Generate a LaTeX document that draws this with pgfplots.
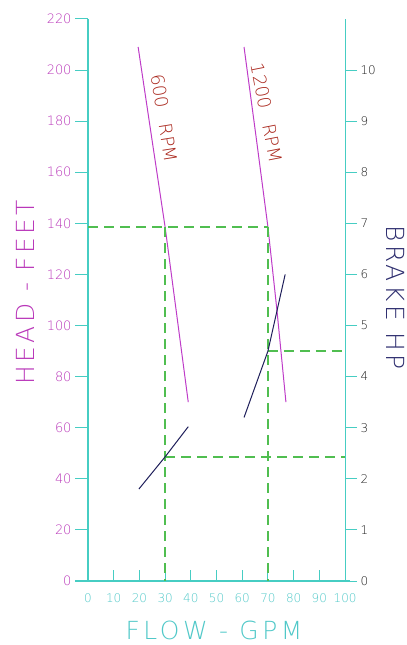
\documentclass[border=0pt]{standalone}
\usepackage{fontspec}
\setmainfont{DejaVu Sans ExtraLight}
\usepackage{pgfplots}
\pgfplotsset{compat=1.18}
\definecolor{cyanax}{RGB}{70,205,195}
\definecolor{cyantxt}{RGB}{80,200,200}
\definecolor{magtxt}{RGB}{185,55,185}
\definecolor{magline}{RGB}{190,60,200}
\definecolor{rpmred}{RGB}{170,40,30}
\definecolor{guidegreen}{RGB}{80,190,80}
\definecolor{navy}{RGB}{30,30,90}
\definecolor{navytxt}{RGB}{45,45,110}
\definecolor{darklab}{RGB}{30,30,30}
\begin{document}
\begin{tikzpicture}
% left axis with head data
\begin{axis}[width=257bp, height=562bp, scale only axis,
  xmin=0, xmax=100, ymin=0, ymax=220,
  axis x line=none, axis y line*=left,
  ytick={0,20,...,220}, tick align=outside, major tick length=13bp,
  axis line style={cyanax, line width=1.1bp},
  ytick style={cyanax, line width=0.9bp},
  yticklabel style={text=magtxt, font=\fontsize{13}{13}\selectfont},
  /pgf/number format/assume math mode=true,
  clip=false]
\coordinate (BL) at (axis cs:-34.24,-25.05);
\coordinate (TR) at (axis cs:124.1,227.4);
% head curves
\addplot[color=magline, line width=1bp] coordinates {(19.5,209) (25,172) (30,138.5) (35,100.5) (39,70)};
\addplot[color=magline, line width=1bp] coordinates {(60.7,209) (65.5,173) (70,138.5) (73.5,106) (77,70)};
\node[rotate=-81, text=rpmred, font=\fontsize{18}{18}\selectfont, inner sep=0pt] at (axis cs:29.6,181.2) {600\hspace{0.9em}RPM};
\node[rotate=-79, text=rpmred, font=\fontsize{18}{18}\selectfont, inner sep=0pt] at (axis cs:69.4,183.2) {1200\hspace{0.9em}RPM};
\node[rotate=90, text=magtxt, font=\fontsize{25}{25}\selectfont\addfontfeature{LetterSpace=14}] at (axis cs:-24.5,113) {HEAD - FEET};
\node[text=cyantxt, font=\fontsize{25}{25}\selectfont\addfontfeature{LetterSpace=14}, inner sep=0pt] at (axis cs:49,-19.3) {FLOW - GPM};
\node[rotate=-90, text=navytxt, font=\fontsize{25}{25}\selectfont\addfontfeature{LetterSpace=14}] at (axis cs:119.5,111) {BRAKE HP};
\end{axis}
% bottom axis
\begin{axis}[width=257bp, height=562bp, scale only axis,
  xmin=0, xmax=100, ymin=0, ymax=220,
  axis y line=none, axis x line*=bottom,
  xtick={0,10,...,100}, tick align=inside, major tick length=11bp,
  axis line style={cyanax, line width=1.1bp},
  xtick style={cyanax, line width=0.9bp},
  xticklabel style={text=cyantxt, font=\fontsize{12}{12}\selectfont, yshift=-9bp},
  /pgf/number format/assume math mode=true,
  clip=false]
\draw[cyanax, line width=1.1bp] (axis cs:-5,0) -- (axis cs:102,0);
\end{axis}
% right axis with brake HP and guide lines (HP = head/20)
\begin{axis}[width=257bp, height=562bp, scale only axis,
  xmin=0, xmax=100, ymin=0, ymax=11,
  axis x line=none, axis y line*=right,
  ytick={0,1,...,10}, tick align=outside, major tick length=12bp,
  axis line style={cyanax, line width=1.1bp},
  ytick style={cyanax, line width=0.9bp},
  yticklabel style={text=darklab, font=\fontsize{12}{12}\selectfont},
  /pgf/number format/assume math mode=true,
  clip=false]
\addplot[color=guidegreen, line width=1.4bp, dash pattern=on 10bp off 6bp] coordinates {(0,6.925) (70,6.925)};
\addplot[color=guidegreen, line width=1.4bp, dash pattern=on 10bp off 6bp] coordinates {(30,6.925) (30,0)};
\addplot[color=guidegreen, line width=1.4bp, dash pattern=on 10bp off 6bp] coordinates {(70,6.925) (70,0)};
\addplot[color=guidegreen, line width=1.4bp, dash pattern=on 10bp off 6bp] coordinates {(70,4.5) (100,4.5)};
\addplot[color=guidegreen, line width=1.4bp, dash pattern=on 10bp off 6bp] coordinates {(30,2.43) (100,2.43)};
\addplot[color=navy, line width=1bp] coordinates {(19.8,1.8) (30,2.43) (39,3.02)};
\addplot[color=navy, line width=1bp] coordinates {(60.7,3.2) (70,4.5) (76.7,6.0)};
\end{axis}
\pgfresetboundingbox
\path[use as bounding box] (BL) rectangle (TR);
\end{tikzpicture}
\end{document}
